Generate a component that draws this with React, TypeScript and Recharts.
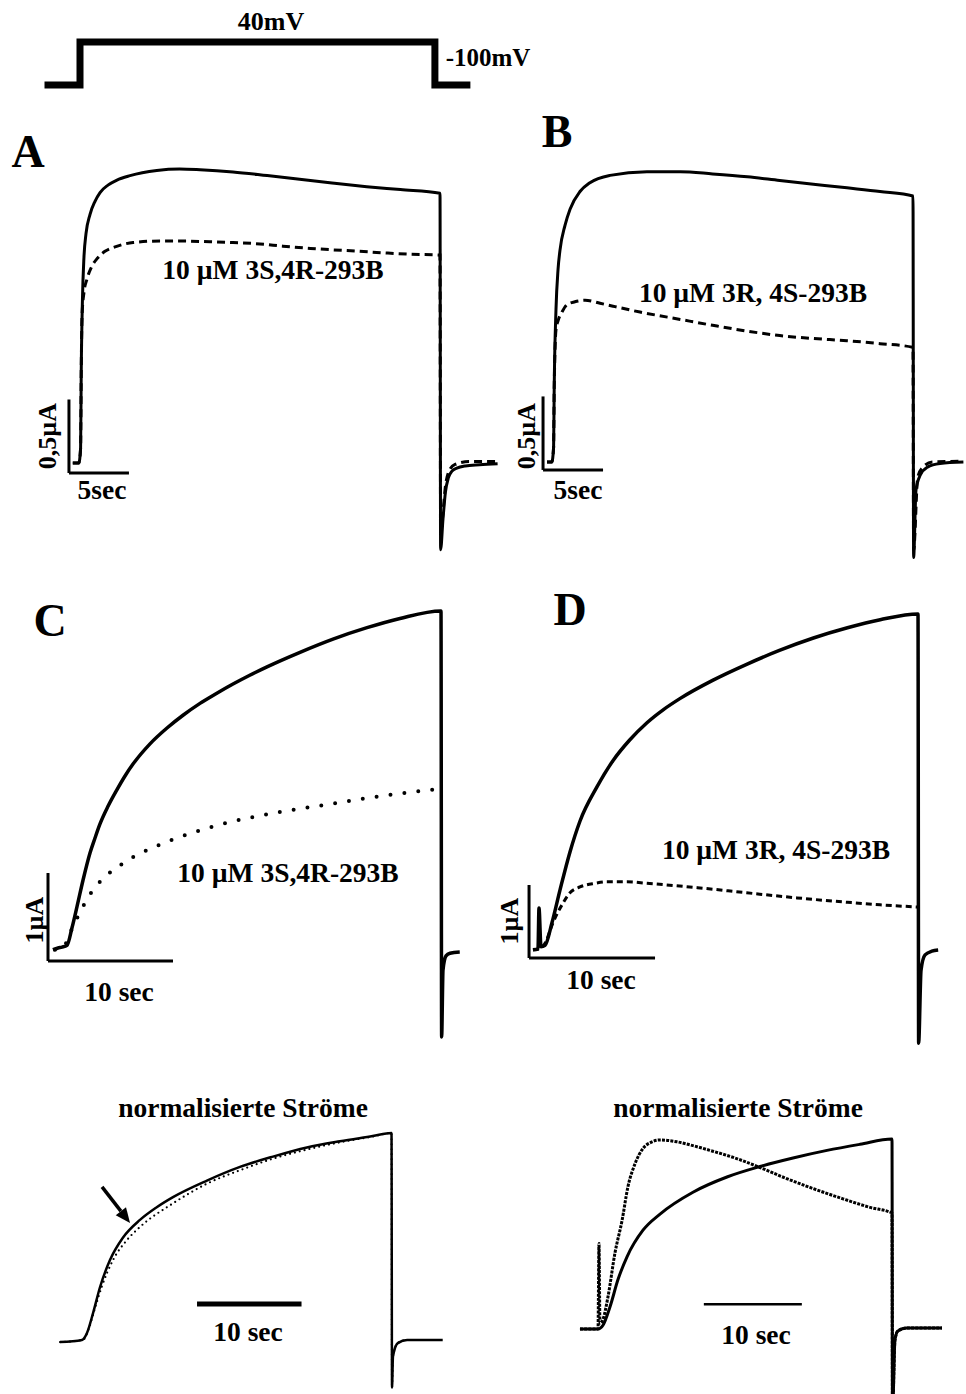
import React from 'react';
import { ComposedChart, Line, XAxis, YAxis, ReferenceLine } from 'recharts';

type Pt = [number, number];

// voltage protocol: time (s), potential (mV)
const protocolStep: Pt[] = [[-3, -100], [0, -100], [0, 40], [30, 40], [30, -100], [33, -100]];

// panel A: time (s), current (µA) – control and 10 µM 3S,4R-293B
const aControl: Pt[] = [
  [-0.6, 0], [-0.1, 0], [0.05, 0.1], [0.1, 0.6], [0.2, 1.1], [0.33, 1.4], [0.5, 1.56], [0.83, 1.69],
  [1.25, 1.78], [1.67, 1.84], [2.33, 1.89], [3.08, 1.925], [4.17, 1.955], [6.4, 1.99], [8.3, 2.0], [10, 1.995],
  [12.75, 1.98], [15.6, 1.955], [18.3, 1.93], [21, 1.905], [23.9, 1.88], [26.7, 1.86], [30, 1.835],
  [30.05, -0.59], [30.25, -0.38], [30.45, -0.2], [30.7, -0.1], [31, -0.055], [31.4, -0.035], [32.1, -0.02],
  [33.3, -0.012], [34.8, -0.005],
];
const aDrug: Pt[] = [
  [-0.6, 0], [-0.1, 0], [0.05, 0.1], [0.1, 0.6], [0.17, 1.0], [0.33, 1.16], [0.58, 1.25], [1.0, 1.34],
  [1.42, 1.39], [2.08, 1.44], [2.92, 1.47], [4.42, 1.5], [6.67, 1.51], [8.58, 1.51], [10.83, 1.505],
  [12.75, 1.5], [15, 1.49], [16.9, 1.475], [19.2, 1.46], [21.1, 1.45], [23.3, 1.44], [25.25, 1.43],
  [27.5, 1.42], [30, 1.415], [30.05, -0.45], [30.5, -0.13], [30.85, -0.04], [31.25, -0.01], [32.5, 0.01],
  [34.8, 0.01],
];

// panel B: control and 10 µM 3R,4S-293B
const bControl: Pt[] = [
  [-0.5, 0], [-0.1, 0], [0.05, 0.1], [0.1, 0.5], [0.25, 1.04], [0.42, 1.31], [0.58, 1.44], [1.0, 1.61],
  [1.42, 1.72], [2.25, 1.84], [3.08, 1.9], [4.75, 1.95], [7.83, 1.975], [10.6, 1.975], [13.3, 1.96],
  [16.2, 1.94], [18.9, 1.915], [21.7, 1.89], [24.5, 1.865], [27.25, 1.84], [30, 1.81], [30.05, -0.65],
  [30.25, -0.19], [30.6, -0.09], [31.2, -0.035], [32.25, -0.01], [34.2, 0],
];
const bDrug: Pt[] = [
  [-0.5, 0], [-0.1, 0], [0.05, 0.1], [0.1, 0.5], [0.25, 0.9], [0.42, 0.96], [0.75, 1.02], [1.17, 1.07],
  [1.83, 1.09], [2.67, 1.1], [3.92, 1.08], [5, 1.06], [7.25, 1.02], [10.6, 0.97], [13.3, 0.93],
  [16.2, 0.89], [18.9, 0.86], [21.7, 0.84], [24.5, 0.825], [27.25, 0.805], [30, 0.78], [30.05, -0.6],
  [30.4, -0.1], [30.9, -0.03], [31.6, 0], [34.2, 0.005],
];

// panel C
const cControl: Pt[] = [
  [-1.04, -0.02], [-0.64, 0], [-0.32, 0.01], [0.08, 0.03], [0.48, 0.23], [0.88, 0.47], [1.36, 0.77],
  [1.92, 1.08], [2.32, 1.25], [2.72, 1.41], [3.36, 1.61], [4.08, 1.8], [4.72, 1.955], [5.36, 2.09],
  [6.72, 2.32], [8.08, 2.5], [9.36, 2.645], [10.72, 2.78], [12.0, 2.89], [13.36, 3.0], [14.7, 3.1],
  [16.08, 3.195], [18.72, 3.36], [21.36, 3.51], [24.08, 3.64], [26.72, 3.745], [30, 3.83],
  [30.05, -1.01], [30.16, -0.25], [30.4, -0.09], [30.72, -0.06], [31.5, -0.045],
];
const cDrug: Pt[] = [
  [-0.88, -0.02], [-0.24, 0], [0.32, 0.17], [0.96, 0.36], [2.0, 0.625], [3.12, 0.81], [4.24, 0.93],
  [4.96, 1.0], [6.0, 1.08], [7.04, 1.145], [7.76, 1.19], [9.92, 1.3], [13.1, 1.43], [16.9, 1.54],
  [20.9, 1.63], [24.9, 1.72], [30, 1.81],
];

// panel D
const dControl: Pt[] = [
  [-0.56, -0.01], [-0.16, 0], [-0.08, 0.56], [0.08, 0.03], [0.4, 0.05], [0.95, 0.36], [1.59, 0.81],
  [2.38, 1.33], [3.17, 1.75], [4.52, 2.22], [5.79, 2.58], [7.1, 2.86], [8.49, 3.1], [9.8, 3.28],
  [11.1, 3.43], [13.7, 3.68], [16.4, 3.9], [19.0, 4.09], [21.7, 4.26], [24.4, 4.4], [27.0, 4.51],
  [30, 4.59], [30.05, -1.29], [30.24, -0.29], [30.56, -0.08], [31.1, -0.03], [31.6, -0.014],
];
const dDrug: Pt[] = [
  [-0.56, -0.01], [-0.16, 0], [0.4, 0.08], [1.03, 0.36], [1.83, 0.63], [2.38, 0.77], [3.17, 0.85],
  [4.37, 0.9], [5.32, 0.92], [6.9, 0.92], [8.49, 0.9], [12.5, 0.84], [16.4, 0.77], [20.4, 0.7],
  [24.4, 0.64], [27.0, 0.605], [30, 0.575],
];

// normalised currents, left (3S,4R) and right (3R,4S)
const nlControl: Pt[] = [
  [-1.72, -0.01], [0.38, 0], [0.86, 0.034], [1.44, 0.13], [2.11, 0.256], [3.06, 0.386], [4.31, 0.495],
  [5.93, 0.58], [7.5, 0.64], [9.09, 0.69], [12.34, 0.77], [15.5, 0.836], [18.66, 0.886], [21.9, 0.93],
  [25.07, 0.96], [28.2, 0.985], [30, 1.0], [30.05, -0.23], [30.14, -0.08], [30.6, -0.015], [31.5, 0],
  [34.9, 0],
];
const nlDrug: Pt[] = [
  [-1.72, -0.01], [0.48, 0], [1.0, 0.05], [1.6, 0.15], [2.27, 0.257], [3.35, 0.386], [4.69, 0.483],
  [5.93, 0.546], [9.09, 0.66], [12.34, 0.755], [15.5, 0.82], [18.66, 0.876], [21.9, 0.92], [25.07, 0.955],
  [28.2, 0.983], [30, 1.0], [30.05, -0.23], [30.14, -0.08], [30.6, -0.015], [31.5, 0], [34.9, 0],
];
const nrControl: Pt[] = [
  [-1.84, 0], [0, 0], [0.51, 0.02], [1.22, 0.116], [2.04, 0.26], [2.96, 0.38], [4.59, 0.52], [6.33, 0.605],
  [9.69, 0.72], [13.16, 0.8], [16.53, 0.855], [19.9, 0.9], [23.37, 0.94], [26.73, 0.972], [30, 1.0],
  [30.05, -0.44], [30.3, -0.058], [30.6, -0.01], [31.5, 0.005], [35.1, 0.005],
];
const nrDrug: Pt[] = [
  [-1.84, 0], [0, 0], [0.1, 0.45], [0.2, 0.03], [0.5, 0.05], [1.02, 0.17], [1.73, 0.4], [2.45, 0.57],
  [3.06, 0.75], [3.78, 0.87], [4.59, 0.95], [5.5, 0.985], [6.33, 0.995], [8.06, 0.985], [9.69, 0.965],
  [11.43, 0.94], [13.98, 0.9], [16.53, 0.85], [19.08, 0.795], [21.63, 0.745], [25.0, 0.685], [27.76, 0.64],
  [30, 0.61], [30.05, -0.44], [30.3, -0.058], [30.6, -0.01], [31.5, 0.005], [35.1, 0.005],
];

// arrow in the left normalised panel (tail, tip)
const arrowTail: Pt = [2.3, 0.74];
const arrowTip: Pt = [4.98, 0.565];

// scale bars: [x1, y1, x2, y2] in data units
const barsA = [[-0.92, -0.068, -0.92, 0.432], [-0.92, -0.068, 4.08, -0.068]];
const barsB = [[-0.83, -0.054, -0.83, 0.446], [-0.83, -0.054, 4.17, -0.054]];
const barsC = [[-1.44, -0.148, -1.44, 0.852], [-1.44, -0.148, 8.56, -0.148]];
const barsD = [[-0.87, -0.123, -0.87, 0.877], [-0.87, -0.123, 9.13, -0.123]];
const barNL = [[11.39, 0.174, 21.39, 0.174]];
const barNR = [[10.8, 0.13, 20.8, 0.13]];

const drugLabel1 = '10 µM 3S,4R-293B';
const drugLabel2 = '10 µM 3R, 4S-293B';

type Frame = { t0: number; kx: number; i0: number; ky: number };
type Trace = { pts: Pt[]; width: number; dash?: string; round?: boolean; color?: string; linear?: boolean };

const FONT = '"Liberation Serif", "Times New Roman", serif';

function Txt({ x, y, size = 27.5, rotate = false, children }: any) {
  return (
    <div
      style={{
        position: 'absolute',
        left: x,
        top: y,
        transform: `translate(-50%, -50%)${rotate ? ' rotate(-90deg)' : ''}`,
        fontFamily: FONT,
        fontWeight: 'bold',
        fontSize: size,
        lineHeight: 1,
        whiteSpace: 'nowrap',
        color: '#000',
      }}
    >
      {children}
    </div>
  );
}

function Panel({ box, frame, traces, bars = [], barWidth = 3, arrow }: {
  box: number[]; frame: Frame; traces: Trace[]; bars?: number[][]; barWidth?: number;
  arrow?: { tail: Pt; tip: Pt };
}) {
  const [x1, y1, x2, y2] = box;
  const { t0, kx, i0, ky } = frame;
  const xDomain = [(x1 - t0) / kx, (x2 - t0) / kx];
  const yDomain = [(i0 - y2) / ky, (i0 - y1) / ky];

  // arrow shaft stops at the neck, the head is drawn forward from there
  let arrowData: { t: number; i: number }[] = [];
  let dir = [1, 0];
  if (arrow) {
    const ax = t0 + arrow.tail[0] * kx, ay = i0 - arrow.tail[1] * ky;
    const bx = t0 + arrow.tip[0] * kx, by = i0 - arrow.tip[1] * ky;
    const len = Math.hypot(bx - ax, by - ay);
    dir = [(bx - ax) / len, (by - ay) / len];
    const nx = bx - dir[0] * 15, ny = by - dir[1] * 15;
    arrowData = [{ t: arrow.tail[0], i: arrow.tail[1] }, { t: (nx - t0) / kx, i: (i0 - ny) / ky }];
  }

  const head = (p: any) => {
    if (p.index !== 1) return <g key={`ah${p.index}`} />;
    const { cx, cy } = p;
    const [dx, dy] = dir;
    const pts = [
      [cx + dx * 15, cy + dy * 15],
      [cx - dy * 6.5, cy + dx * 6.5],
      [cx + dy * 6.5, cy - dx * 6.5],
    ];
    return <polygon key="ah1" points={pts.map((q) => q.join(',')).join(' ')} fill="#000" />;
  };

  return (
    <div style={{ position: 'absolute', left: x1, top: y1 }}>
      <ComposedChart width={x2 - x1} height={y2 - y1} margin={{ top: 0, right: 0, bottom: 0, left: 0 }}>
        <XAxis type="number" dataKey="t" domain={xDomain} hide allowDataOverflow />
        <YAxis type="number" dataKey="i" domain={yDomain} hide allowDataOverflow />
        {bars.map((b, k) => (
          <ReferenceLine
            key={`bar${k}`}
            segment={[{ x: b[0], y: b[1] }, { x: b[2], y: b[3] }]}
            stroke="#000"
            strokeWidth={barWidth}
            ifOverflow="visible"
          />
        ))}
        {traces.map((tr, k) => (
          <Line
            key={`tr${k}`}
            data={tr.pts.map(([t, i]) => ({ t, i }))}
            dataKey="i"
            type={tr.linear ? 'linear' : 'monotone'}
            stroke={tr.color ?? '#000'}
            strokeWidth={tr.width}
            strokeDasharray={tr.dash}
            strokeLinecap={tr.round ? 'round' : 'butt'}
            strokeLinejoin="miter"
            dot={false}
            activeDot={false}
            isAnimationActive={false}
          />
        ))}
        {arrow && (
          <Line
            data={arrowData}
            dataKey="i"
            type="linear"
            stroke="#000"
            strokeWidth={3.5}
            dot={head}
            activeDot={false}
            isAnimationActive={false}
          />
        )}
      </ComposedChart>
    </div>
  );
}

export default function App() {
  return (
    <div style={{ position: 'absolute', left: 0, top: 0, width: 966, height: 1394, background: '#fff', overflow: 'hidden' }}>
      {/* protocol */}
      <Panel
        box={[30, 10, 500, 110]}
        frame={{ t0: 80, kx: 11.83, i0: 54.3, ky: 0.307 }}
        traces={[{ pts: protocolStep, width: 7, linear: true }]}
      />
      <Txt x={271} y={22} size={26}>40mV</Txt>
      <Txt x={488} y={57} size={25}>-100mV</Txt>

      {/* A */}
      <Panel
        box={[20, 125, 510, 580]}
        frame={{ t0: 80, kx: 12, i0: 463, ky: 147 }}
        traces={[{ pts: aDrug, width: 3, dash: '8 5' }, { pts: aControl, width: 3 }]}
        bars={barsA}
      />
      <Txt x={28} y={152} size={46}>A</Txt>
      <Txt x={273} y={270}>{drugLabel1}</Txt>
      <Txt x={48} y={436} rotate size={26}>0,5µA</Txt>
      <Txt x={102} y={490}>5sec</Txt>

      {/* B */}
      <Panel
        box={[500, 110, 966, 580]}
        frame={{ t0: 553, kx: 12, i0: 462, ky: 147 }}
        traces={[{ pts: bDrug, width: 3, dash: '8 5' }, { pts: bControl, width: 3 }]}
        bars={barsB}
      />
      <Txt x={557} y={132} size={46}>B</Txt>
      <Txt x={753} y={293}>{drugLabel2}</Txt>
      <Txt x={527} y={436} rotate size={26}>0,5µA</Txt>
      <Txt x={578} y={490}>5sec</Txt>

      {/* C */}
      <Panel
        box={[20, 590, 480, 1050]}
        frame={{ t0: 66, kx: 12.5, i0: 948, ky: 88 }}
        traces={[{ pts: cDrug, width: 4, dash: '0 14', round: true }, { pts: cControl, width: 3.5 }]}
        bars={barsC}
      />
      <Txt x={50} y={621} size={46}>C</Txt>
      <Txt x={288} y={873}>{drugLabel1}</Txt>
      <Txt x={35} y={920} rotate size={26}>1µA</Txt>
      <Txt x={119} y={992}>10 sec</Txt>

      {/* D */}
      <Panel
        box={[500, 590, 966, 1050]}
        frame={{ t0: 540, kx: 12.6, i0: 949, ky: 73 }}
        traces={[{ pts: dDrug, width: 3, dash: '6 4' }, { pts: dControl, width: 3.5 }]}
        bars={barsD}
      />
      <Txt x={570} y={610} size={46}>D</Txt>
      <Txt x={776} y={850}>{drugLabel2}</Txt>
      <Txt x={510} y={921} rotate size={26}>1µA</Txt>
      <Txt x={601} y={980}>10 sec</Txt>

      {/* normalised, left */}
      <Panel
        box={[50, 1120, 460, 1394]}
        frame={{ t0: 78, kx: 10.45, i0: 1340, ky: 207 }}
        traces={[{ pts: nlControl, width: 2.5 }, { pts: nlDrug, width: 2.2, dash: '0 5', round: true }]}
        bars={barNL}
        barWidth={5}
        arrow={{ tail: arrowTail, tip: arrowTip }}
      />
      <Txt x={243} y={1108}>normalisierte Ströme</Txt>
      <Txt x={248} y={1332}>10 sec</Txt>

      {/* normalised, right */}
      <Panel
        box={[570, 1120, 966, 1394]}
        frame={{ t0: 598, kx: 9.8, i0: 1329, ky: 190 }}
        traces={[{ pts: nrControl, width: 3 }, { pts: nrDrug, width: 3, dash: '3 1.2' }]}
        bars={barNR}
        barWidth={2.5}
      />
      <Txt x={738} y={1108}>normalisierte Ströme</Txt>
      <Txt x={756} y={1335}>10 sec</Txt>
    </div>
  );
}
